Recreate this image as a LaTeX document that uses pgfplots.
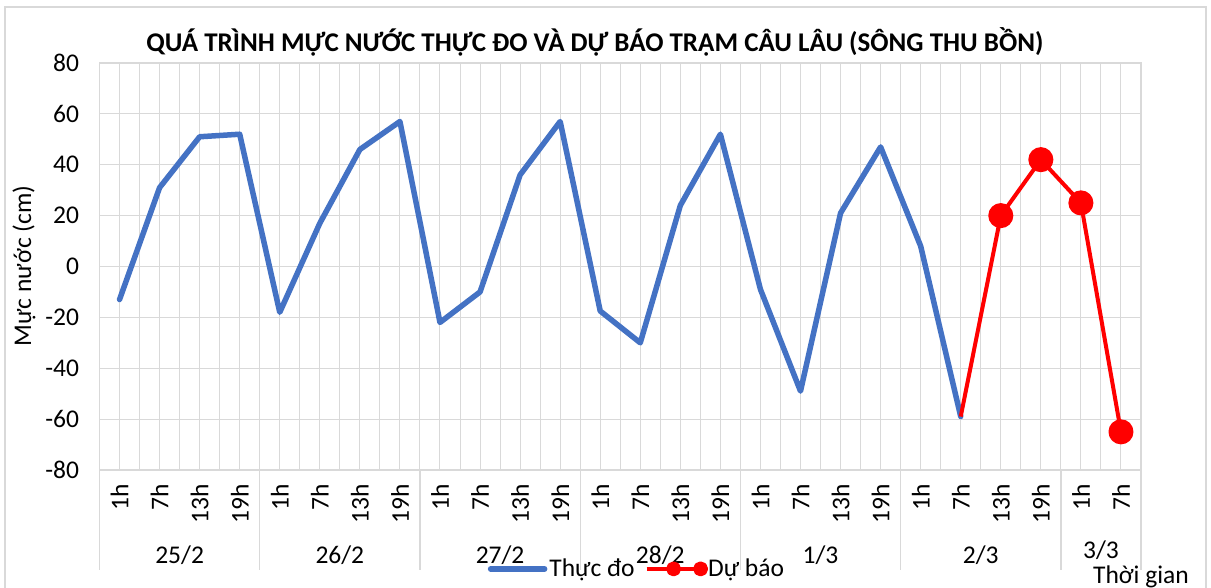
\documentclass[border=0pt]{standalone}
\usepackage{fontspec}
\setmainfont{Carlito}
\usepackage{pgfplots}
\pgfplotsset{compat=1.18}
\definecolor{blueS}{HTML}{4472C4}
\definecolor{redS}{HTML}{FF0000}
\definecolor{gridc}{HTML}{D9D9D9}
\newcommand{\fs}{\fontsize{25.5bp}{29bp}\selectfont}
\begin{document}
\begin{tikzpicture}[x=1bp,y=1bp]
\useasboundingbox (0,0) rectangle (1211,588);
\fill[white] (0,0) rectangle (1211,588);
\draw[gridc, line width=1.2bp] (5,0) -- (5,581) -- (1206,581) -- (1206,0);
\begin{axis}[
  at={(99.5bp,118bp)}, anchor=south west,
  scale only axis, width=1041.5bp, height=407bp,
  xmin=-0.5, xmax=25.5, ymin=-80, ymax=80,
  clip=false,
  ytick={-80,-60,-40,-20,0,20,40,60,80},
  yticklabels={-80,-60,-40,-20,0,20,40,60,80},
  xtick={0,...,25},
  xticklabels={1h,7h,13h,19h,1h,7h,13h,19h,1h,7h,13h,19h,1h,7h,13h,19h,1h,7h,13h,19h,1h,7h,13h,19h,1h,7h},
  minor xtick={-0.5,0.5,...,25.5},
  grid=both,
  major grid style={gridc, line width=1bp},
  minor grid style={gridc, line width=1bp},
  axis line style={gridc, line width=1.3bp},
  tick style={draw=none},
  x tick label style={rotate=90, anchor=east, font=\fs},
  y tick label style={font=\fs},
  xticklabel shift=11bp,
  yticklabel shift=17bp,
  legend columns=2,
  legend style={at={(0.516,-0.243)}, anchor=center, draw=none, fill=none, font=\fs,
    /tikz/every even column/.append style={column sep=8bp},
    inner sep=0pt},
  legend image code/.code={\draw[mark repeat=2,mark phase=2,#1, mark size=5.5bp] plot coordinates {(0bp,0bp) (27bp,0bp) (54bp,0bp)};},
]
\addplot[blueS, line width=5.5bp, line join=round, line cap=round] coordinates {
 (0,-13) (1,31) (2,51) (3,52)
 (4,-18) (5,17) (6,46) (7,57)
 (8,-22) (9,-10) (10,36) (11,57)
 (12,-17.5) (13,-30) (14,24) (15,52)
 (16,-9) (17,-49) (18,21) (19,47)
 (20,8) (21,-59)
};
\addlegendentry{Thực đo}
\addplot[redS, line width=4bp, line join=round, mark=*, mark size=10.5bp, mark indices={2,3,4,5}] coordinates {
 (21,-59) (22,20) (23,42) (24,25) (25,-65)
};
\addlegendentry{Dự báo}
\pgfplotsinvokeforeach{-0.5,3.5,7.5,11.5,15.5,19.5,23.5,25.5}{
  \draw[gridc, line width=1.3bp] (axis cs:#1,-80) -- ++(0bp,-100bp);
}
\node[font=\fs] at (axis cs:1.5,-80) [yshift=-85bp] {25/2};
\node[font=\fs] at (axis cs:5.5,-80) [yshift=-85bp] {26/2};
\node[font=\fs] at (axis cs:9.5,-80) [yshift=-85bp] {27/2};
\node[font=\fs] at (axis cs:13.5,-80) [yshift=-85bp] {28/2};
\node[font=\fs] at (axis cs:17.5,-80) [yshift=-85bp] {1/3};
\node[font=\fs] at (axis cs:21.5,-80) [yshift=-85bp] {2/3};
\node[font=\fs, inner sep=0pt] at (axis cs:24.5,-80) [yshift=-80bp] {3/3};
\end{axis}
\node[font=\fs, inner sep=0pt] at (1141,11) {Thời gian};
\node[font=\fontsize{27bp}{31bp}\bfseries\selectfont] at (595,546) {QUÁ TRÌNH MỰC NƯỚC THỰC ĐO VÀ DỰ BÁO TRẠM CÂU LÂU (SÔNG THU BỒN)};
\node[font=\fs, rotate=90] at (24,322) {Mực nước (cm)};
\end{tikzpicture}
\end{document}
